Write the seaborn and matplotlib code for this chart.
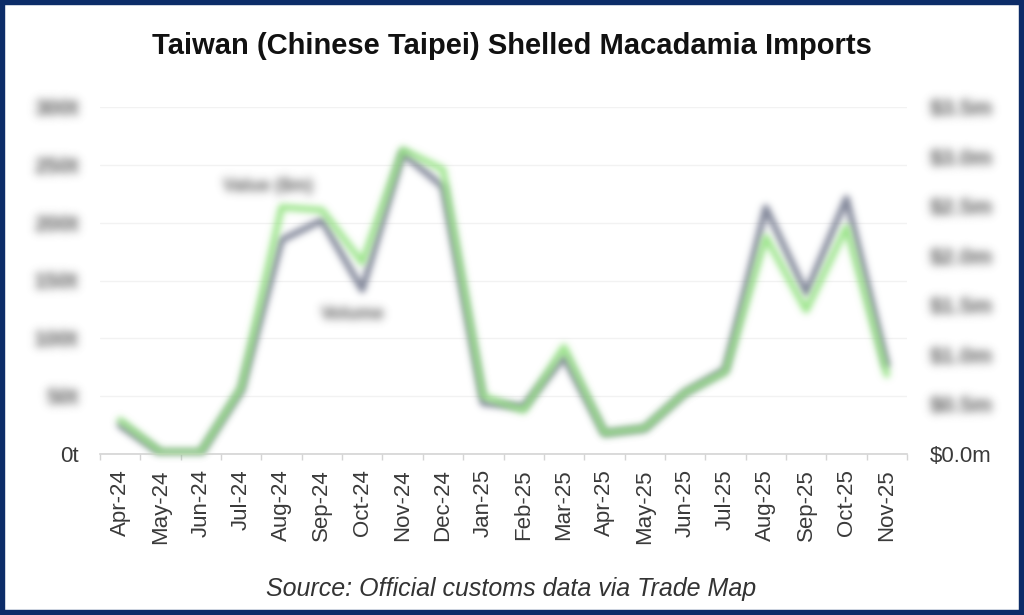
import numpy as np
import pandas as pd
import matplotlib
matplotlib.use("Agg")
import matplotlib.pyplot as plt
from matplotlib.patches import Rectangle
import seaborn as sns

months = ["Apr-24", "May-24", "Jun-24", "Jul-24", "Aug-24", "Sep-24", "Oct-24",
          "Nov-24", "Dec-24", "Jan-25", "Feb-25", "Mar-25", "Apr-25", "May-25",
          "Jun-25", "Jul-25", "Aug-25", "Sep-25", "Oct-25", "Nov-25"]
volume_t = [25, 1, 1, 55, 185, 202, 142, 260, 231, 44, 41, 84, 18, 22, 53, 73, 213, 139, 221, 77]
value_musd = [0.34, 0.02, 0.02, 0.67, 2.49, 2.46, 1.93, 3.07, 2.87, 0.58, 0.44, 1.08,
              0.21, 0.26, 0.62, 0.83, 2.19, 1.45, 2.29, 0.80]

left_ticks = [0, 50, 100, 150, 200, 250, 300]
left_labels = ["0t", "50t", "100t", "150t", "200t", "250t", "300t"]
right_ticks = [0, 0.5, 1.0, 1.5, 2.0, 2.5, 3.0, 3.5]
right_labels = ["$0.0m", "$0.5m", "$1.0m", "$1.5m", "$2.0m", "$2.5m", "$3.0m", "$3.5m"]

title = "Taiwan (Chinese Taipei) Shelled Macadamia Imports"
source = "Source: Official customs data via Trade Map"

GREY = "#7f8497"
GREEN = "#8fe27c"


class Blur:
    """gaussian blur used as an agg_filter"""
    def __init__(self, sigma):
        self.sigma = sigma

    def __call__(self, im, dpi):
        s = self.sigma
        pad = int(3 * s) + 1
        a = im[..., 3:4]
        pm = np.concatenate([im[..., :3] * a, a], axis=-1)
        p = np.pad(pm, ((pad, pad), (pad, pad), (0, 0)))
        x = np.arange(-pad, pad + 1)
        k = np.exp(-x ** 2 / (2 * s * s))
        k /= k.sum()
        tmp = np.zeros_like(p)
        for i, w in enumerate(k):
            tmp += w * np.roll(p, i - pad, axis=0)
        out = np.zeros_like(p)
        for i, w in enumerate(k):
            out += w * np.roll(tmp, i - pad, axis=1)
        alpha = out[..., 3:4]
        rgb = out[..., :3] / np.maximum(alpha, 1e-6)
        res = np.concatenate([np.clip(rgb, 0, 1), np.clip(alpha, 0, 1)], axis=-1)
        return res, -pad, -pad


sns.set_theme(style="white")
plt.rcParams["font.family"] = ["Liberation Sans", "DejaVu Sans"]

df = pd.DataFrame({"idx": range(len(months)), "month": months,
                   "volume": volume_t, "value": value_musd})

fig = plt.figure(figsize=(10.24, 6.15), dpi=100)
ax = fig.add_axes([100 / 1024, 1 - 454 / 615, 807 / 1024, 347 / 615])

sns.lineplot(data=df, x="idx", y="volume", ax=ax, color=GREY, linewidth=4.6, sort=False)
ax2 = ax.twinx()
sns.lineplot(data=df, x="idx", y="value", ax=ax2, color=GREEN, linewidth=4.6, sort=False,
             alpha=0.9)

for ln in ax.lines + ax2.lines:
    ln.set_solid_joinstyle("round")
    ln.set_solid_capstyle("round")
    ln.set_agg_filter(Blur(3.4))

ax.set_xlim(-0.5, len(months) - 0.5)
ax.set_ylim(0, 300)
ax2.set_ylim(0, 3.5)

ax.set_xticks(range(len(months)))
ax.set_xticklabels(months, rotation=90)
ax.set_xticks(np.arange(-0.5, len(months), 1), minor=True)
ax.tick_params(axis="x", which="major", length=0, pad=11, labelsize=16, labelcolor="#3a3a3a")
ax.tick_params(axis="x", which="minor", bottom=True, length=4.5, width=1, color="#d4d4d4")

ax.set_yticks(left_ticks)
ax.set_yticklabels(left_labels)
ax.tick_params(axis="y", length=0, pad=15.5, labelsize=16, labelcolor="#3a3a3a")
ax2.set_yticks(right_ticks)
ax2.set_yticklabels(right_labels)
ax2.tick_params(axis="y", length=0, pad=16.5, labelsize=16, labelcolor="#3a3a3a")

ax.set_xlabel("")
ax.set_ylabel("")
ax2.set_ylabel("")

ax.grid(axis="y", color="#f2f2f2", linewidth=1)
ax.set_axisbelow(True)
for a in (ax, ax2):
    for side in ("top", "left", "right", "bottom"):
        a.spines[side].set_visible(False)
ax.spines["bottom"].set_visible(True)
ax.spines["bottom"].set_color("#d4d4d4")
ax.spines["bottom"].set_linewidth(1.2)

# series labels
ax2.annotate("Value ($m)", xy=(4, value_musd[4]), xytext=(-10, 14.5),
             textcoords="offset points", ha="center", va="center",
             fontsize=13, fontweight="bold", color="#555555").set_agg_filter(Blur(3.2))
ax.annotate("Volume", xy=(6, volume_t[6]), xytext=(-6.5, -18),
            textcoords="offset points", ha="center", va="center",
            fontsize=13, fontweight="bold", color="#555555").set_agg_filter(Blur(3.2))

fig.text(0.5, 1 - 46 / 615, title, ha="center", va="center",
         fontsize=21, fontweight="bold", color="#111111")
fig.text(511 / 1024, 1 - 589 / 615, source, ha="center", va="center",
         fontsize=18, style="italic", color="#333333")

fig.patches.append(Rectangle((0, 0), 1, 1, transform=fig.transFigure, fill=False,
                             edgecolor="#0c2c68", linewidth=7.5))

# the value labels on both axes are smudged in the original, except zero
for lbl in ax.get_yticklabels()[1:] + ax2.get_yticklabels()[1:]:
    lbl.set_fontweight("bold")
    lbl.set_color("#555555")
    lbl.set_agg_filter(Blur(4.5))

fig.savefig("out.png", dpi=100)
